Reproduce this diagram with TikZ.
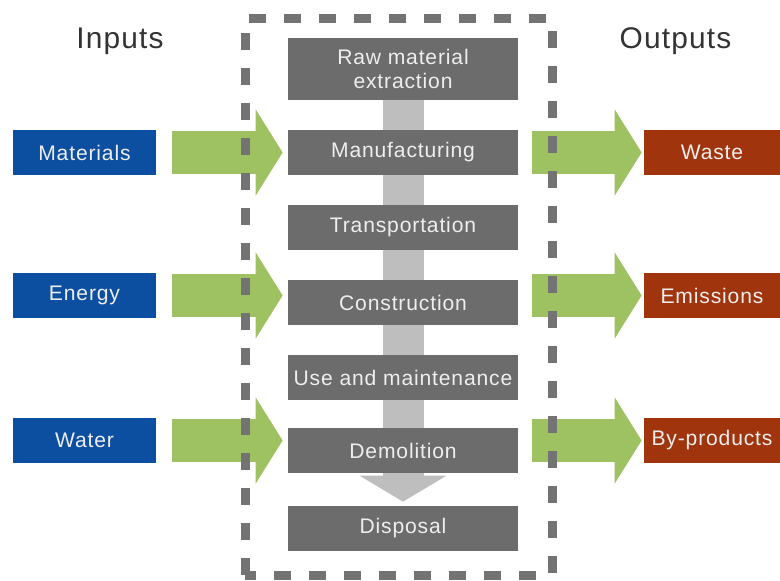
\documentclass[tikz,border=0pt]{standalone}
\usepackage{fontspec}
\setmainfont{Liberation Sans}[LetterSpace=4]
\usetikzlibrary{arrows.meta,calc,backgrounds}

\definecolor{grisfonce}{RGB}{108,108,108}
\definecolor{grisclair}{RGB}{190,190,190}
\definecolor{griscadre}{RGB}{115,115,115}
\definecolor{vertfleche}{RGB}{158,193,98}
\definecolor{bleuentree}{RGB}{12,78,160}
\definecolor{rougesortie}{RGB}{160,52,12}
\definecolor{texteclair}{RGB}{238,238,238}

\tikzset{
  etape/.style={fill=grisfonce, text=texteclair, minimum width=4.6cm, minimum height=0.9cm,
    inner sep=0pt, font=\fontsize{12}{13.6}\selectfont, align=center},
  entree/.style={fill=bleuentree, text=texteclair, minimum width=2.86cm, minimum height=0.9cm,
    inner sep=0pt, font=\fontsize{12}{14}\selectfont},
  sortie/.style={fill=rougesortie, text=texteclair, minimum width=2.72cm, minimum height=0.9cm,
    inner sep=0pt, font=\fontsize{12}{14}\selectfont},
  titre/.style={anchor=base, text=black!80, font=\fontsize{17}{20}\selectfont},
  fleche/.style={vertfleche, line width=0.86cm, -{Triangle[length=0.54cm,width=1.7cm]}},
  flux/.style={grisclair, line width=0.82cm, -{Triangle[length=0.52cm,width=1.72cm]}},
  cadre/.style={griscadre, line width=0.18cm, dash pattern=on 0.34cm off 0.36cm}
}

\begin{document}
\begin{tikzpicture}

  \useasboundingbox (0,0) rectangle (15.6,11.6);

  % Titres
  \node[titre] (inputs) at (2.4,10.63) {Inputs};
  \node[titre] (outputs) at (13.51,10.63) {Outputs};

  % Etapes du cycle de vie
  \node[etape, minimum height=1.24cm] (raw) at (8.06,10.22) {Raw material\\extraction};
  \foreach \nom/\y/\lbl in {manu/8.55/Manufacturing, trans/7.05/Transportation,
      constr/5.55/Construction, use/4.05/Use and maintenance,
      demo/2.59/Demolition, disp/1.03/Disposal}
    \node[etape] (\nom) at (8.06,\y) {\lbl};

  % Entrees et sorties
  \foreach \nom/\y/\lbl in {mat/8.55/Materials, en/5.69/Energy, wat/2.79/Water}
    \node[entree] (\nom) at (1.69,\y) {\lbl};
  \foreach \nom/\y/\lbl in {waste/8.55/Waste, emis/5.69/Emissions, byp/2.79/By-products}
    \node[sortie] (\nom) at (14.24,\y) {\lbl};

  % Fleches
  \begin{pgfonlayer}{background}
    \draw[flux] (raw.south) -- ($(disp.north)+(0,0.08)$);
    \foreach \a/\b in {mat/manu, en/constr, wat/demo}
      \draw[fleche] ($(\a.east)+(0.32,0)$) -- ($(\a.east -| \b.west)+(-0.1,0)$);
    \foreach \a/\b in {manu/waste, constr/emis, demo/byp}
      \draw[fleche] ($(\b.west -| \a.east)+(0.28,0)$) -- ($(\b.west)+(-0.04,0)$);
  \end{pgfonlayer}

  % Cadre pointille
  \draw[cadre] (4.9,0.1) rectangle (11.04,11.22);

\end{tikzpicture}
\end{document}
